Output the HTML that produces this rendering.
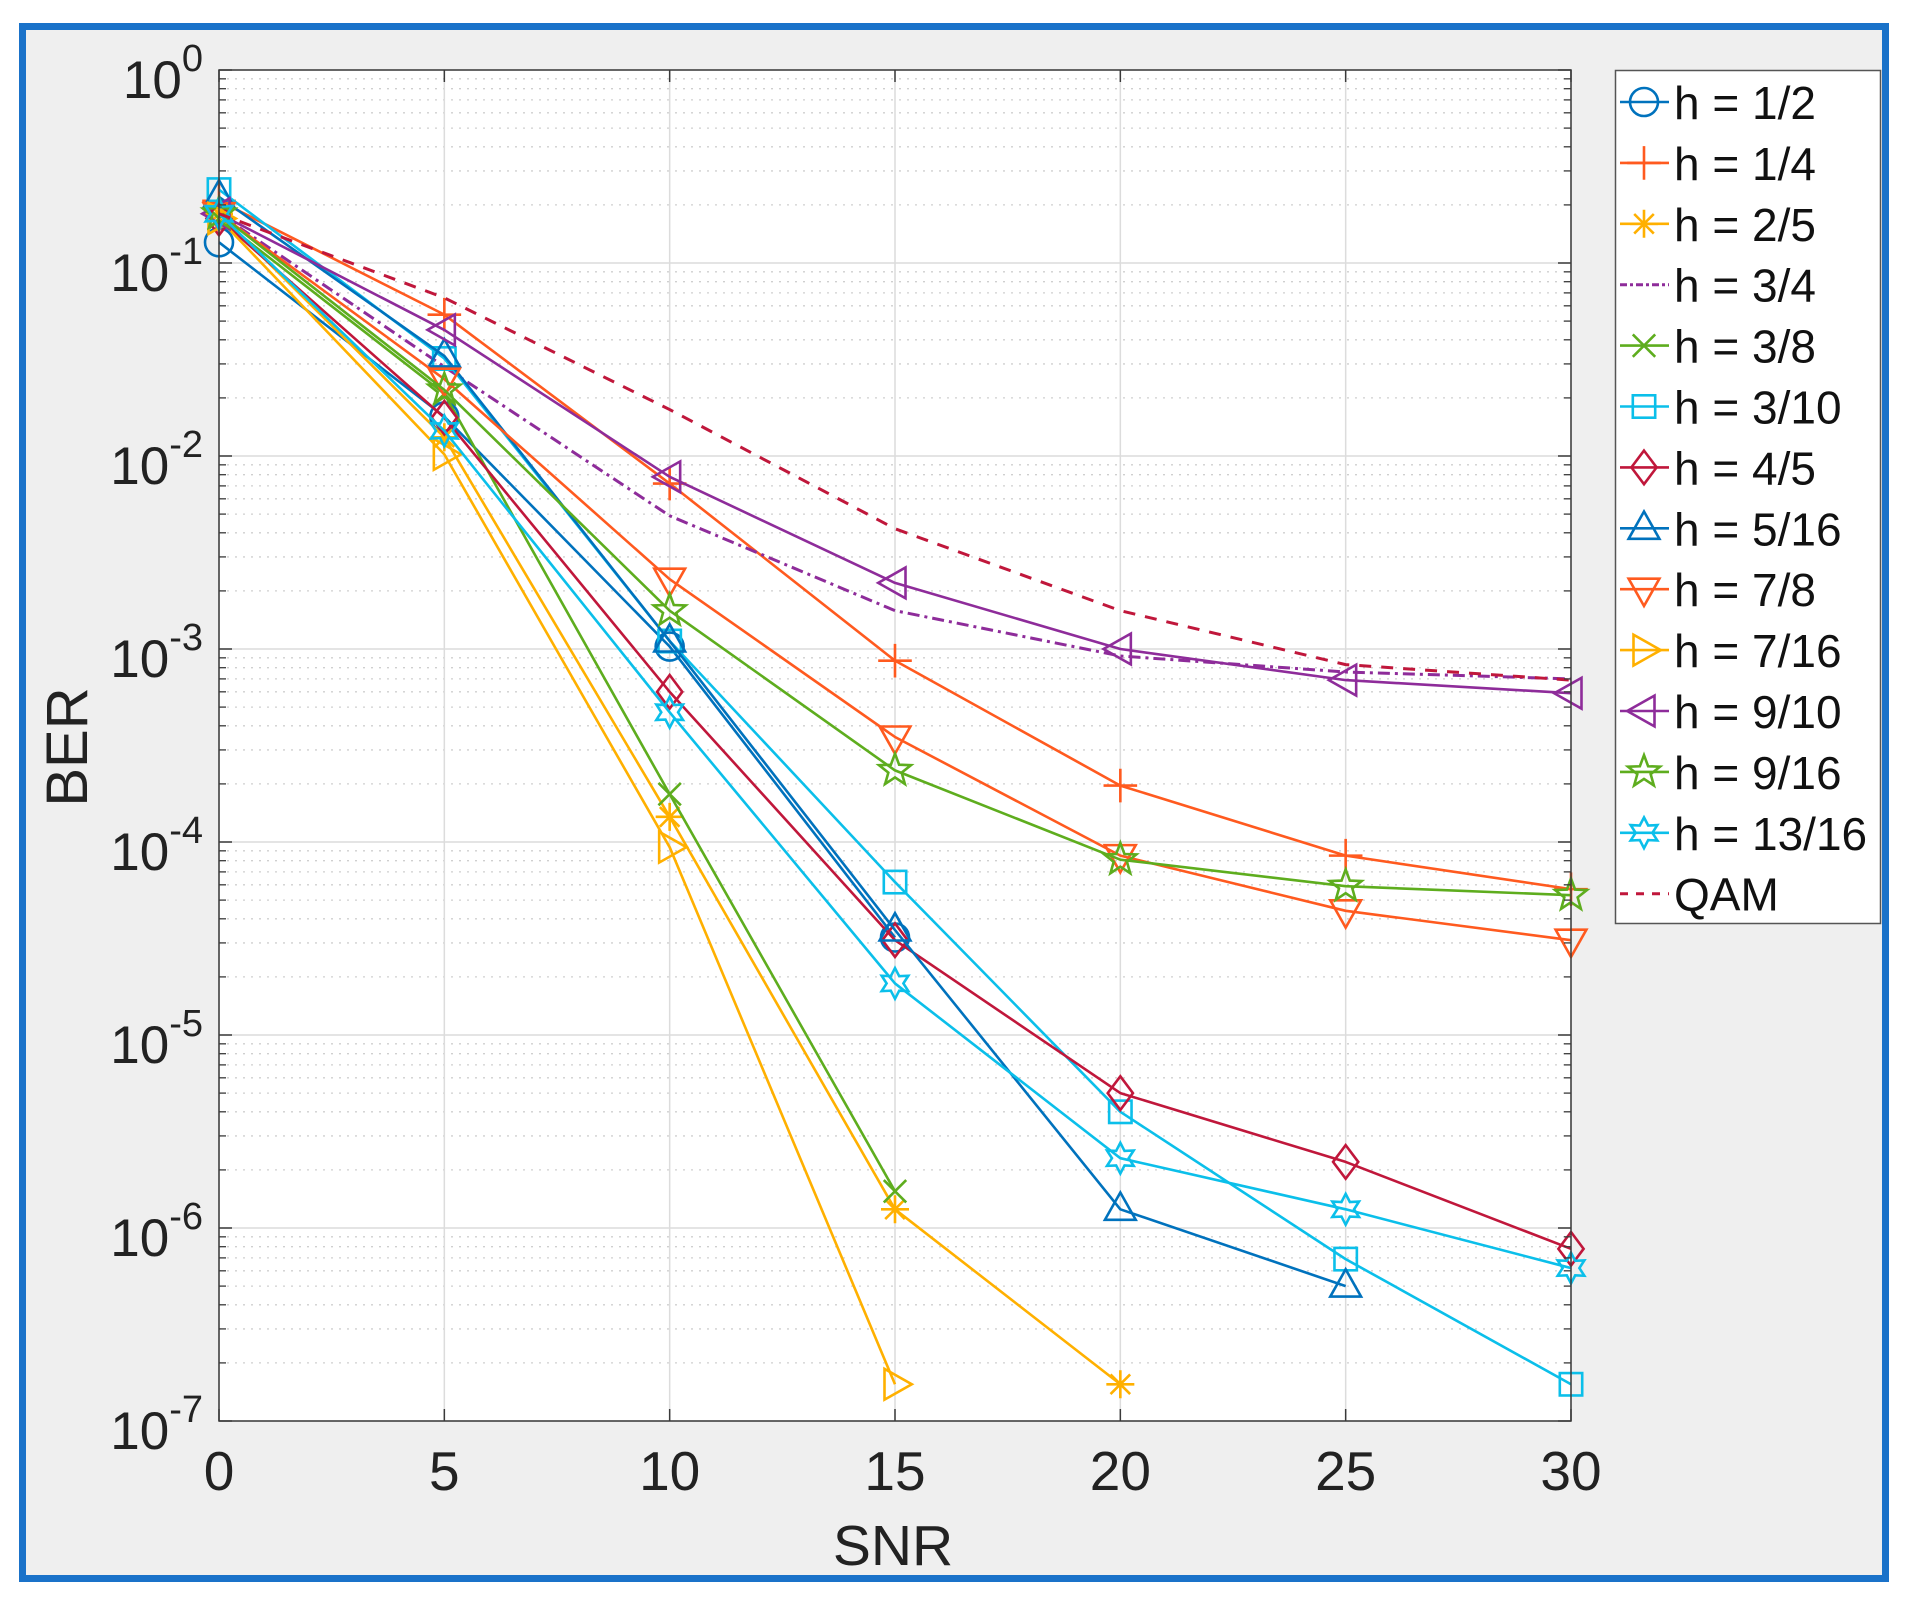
<!DOCTYPE html>
<html><head><meta charset="utf-8"><style>
html,body{margin:0;padding:0;background:#fff;}
svg{display:block;font-family:"Liberation Sans",Arial,sans-serif;}
</style></head><body>
<svg id="chart" width="1915" height="1610" viewBox="0 0 1915 1610">
<rect x="22.5" y="26.5" width="1863" height="1552" fill="#efefef" stroke="#1a72c9" stroke-width="7"/>
<rect x="219" y="70" width="1352" height="1351" fill="#fff"/>
<g id="grid"></g>
<g id="series"></g>
<rect x="219" y="70" width="1352" height="1351" fill="none" stroke="#3a3a3a" stroke-width="1.5"/>
<g id="ticks"></g>
<text x="893" y="1565" font-size="57" text-anchor="middle" fill="#222">SNR</text>
<text transform="translate(87,747) rotate(-90)" font-size="58" text-anchor="middle" fill="#222">BER</text>
<g id="legend"></g>
</svg>
<script>
const xVals = [0, 5, 10, 15, 20, 25, 30];
const xTickLabels = ["0","5","10","15","20","25","30"];
const yTickExps = [0,-1,-2,-3,-4,-5,-6,-7];
const seriesNames = ["h = 1/2","h = 1/4","h = 2/5","h = 3/4","h = 3/8","h = 3/10","h = 4/5","h = 5/16","h = 7/8","h = 7/16","h = 9/10","h = 9/16","h = 13/16","QAM"];
const s_h1_2  = [0.128, 0.016, 0.00103, 3.2e-5];
const s_h1_4  = [0.21, 0.054, 0.0072, 8.7e-4, 1.96e-4, 8.5e-5, 5.7e-5];
const s_h2_5  = [0.18, 0.0125, 1.35e-4, 1.25e-6, 1.55e-7];
const s_h3_4  = [0.18, 0.029, 0.0049, 1.58e-3, 9.2e-4, 7.6e-4, 7.0e-4];
const s_h3_8  = [0.17, 0.021, 1.77e-4, 1.55e-6];
const s_h3_10 = [0.24, 0.032, 1.1e-3, 6.2e-5, 4.0e-6, 6.9e-7, 1.55e-7];
const s_h4_5  = [0.17, 0.0158, 6.0e-4, 3.1e-5, 5.0e-6, 2.2e-6, 7.8e-7];
const s_h5_16 = [0.22, 0.033, 1.1e-3, 3.5e-5, 1.25e-6, 5.0e-7];
const s_h7_8  = [0.18, 0.025, 2.3e-3, 3.5e-4, 8.5e-5, 4.4e-5, 3.1e-5];
const s_h7_16 = [0.17, 0.0102, 9.4e-5, 1.55e-7];
const s_h9_10 = [0.18, 0.045, 7.8e-3, 2.2e-3, 1.0e-3, 6.9e-4, 5.9e-4];
const s_h9_16 = [0.18, 0.022, 1.58e-3, 2.35e-4, 8.1e-5, 5.9e-5, 5.3e-5];
const s_h13_16= [0.18, 0.0135, 4.7e-4, 1.85e-5, 2.3e-6, 1.25e-6, 6.2e-7];
const s_qam   = [0.18, 0.066, 0.0174, 4.2e-3, 1.58e-3, 8.3e-4, 6.9e-4];

const NS="http://www.w3.org/2000/svg";
const L=219,R=1571,T=70,B=1421;
const xs=v=>L+(v-0)/30*(R-L);
const ys=v=>T+(0-Math.log10(v))/7*(B-T);
function mk(tag,attrs,parent){const e=document.createElementNS(NS,tag);for(const k in attrs)e.setAttribute(k,attrs[k]);parent.appendChild(e);return e;}

const styles=[
 {d:s_h1_2,c:"#0072BD",m:"o",dash:""},
 {d:s_h1_4,c:"#FF5A1F",m:"+",dash:""},
 {d:s_h2_5,c:"#FFB000",m:"*",dash:""},
 {d:s_h3_4,c:"#8E2C9A",m:"",dash:"12,5,3,5"},
 {d:s_h3_8,c:"#5EAD1E",m:"x",dash:""},
 {d:s_h3_10,c:"#0BBFEA",m:"s",dash:""},
 {d:s_h4_5,c:"#C0173B",m:"d",dash:""},
 {d:s_h5_16,c:"#0072BD",m:"^",dash:""},
 {d:s_h7_8,c:"#FF5A1F",m:"v",dash:""},
 {d:s_h7_16,c:"#FFB000",m:">",dash:""},
 {d:s_h9_10,c:"#8E2C9A",m:"<",dash:""},
 {d:s_h9_16,c:"#5EAD1E",m:"p",dash:""},
 {d:s_h13_16,c:"#0BBFEA",m:"h",dash:""},
 {d:s_qam,c:"#C0173B",m:"",dash:"12,10"}
];

// grid
const grid=document.getElementById('grid');
for(let e=0;e>-7;e--){
  for(let k=2;k<=9;k++){
    const y=ys(k*Math.pow(10,e-1));
    const g=mk('line',{x1:L,x2:R,y1:y,y2:y,stroke:"#cfcfcf","stroke-width":1.3,"stroke-dasharray":"2,6"},grid);
    
    
  }
}
yTickExps.forEach(e=>{const y=ys(Math.pow(10,e));
  const g=mk('line',{x1:L,x2:R,y1:y,y2:y,stroke:"#dcdcdc","stroke-width":1.5},grid);
  
  
});
xVals.forEach(v=>{const x=xs(v);
  const g=mk('line',{x1:x,x2:x,y1:T,y2:B,stroke:"#dcdcdc","stroke-width":1.5},grid);
  
  
});

// ticks and labels
const ticks=document.getElementById('ticks');
xVals.forEach((v,i)=>{const x=xs(v);
  mk('line',{x1:x,x2:x,y1:B,y2:B-12,stroke:"#3a3a3a","stroke-width":1.5},ticks);
  mk('line',{x1:x,x2:x,y1:T,y2:T+12,stroke:"#3a3a3a","stroke-width":1.5},ticks);
  const t=mk('text',{x:x,y:1490,"font-size":55,"text-anchor":"middle",fill:"#222"},ticks);
  t.textContent=xTickLabels[i];
  
  
});
yTickExps.forEach(e=>{const y=ys(Math.pow(10,e));
  mk('line',{x1:L,x2:L+13,y1:y,y2:y,stroke:"#3a3a3a","stroke-width":1.5},ticks);
  mk('line',{x1:R,x2:R-13,y1:y,y2:y,stroke:"#3a3a3a","stroke-width":1.5},ticks);
  const t=mk('text',{x:203,y:y+28,"font-size":53,"text-anchor":"end",fill:"#222"},ticks);
  const a=mk('tspan',{},t);a.textContent="10";
  const b=mk('tspan',{"font-size":38,dy:-27},t);b.textContent=String(e).replace('-','-');
  
  
});
for(let e=0;e>-7;e--){for(let k=2;k<=9;k++){const y=ys(k*Math.pow(10,e-1));
  mk('line',{x1:L,x2:L+7,y1:y,y2:y,stroke:"#3a3a3a","stroke-width":1.3},ticks);
  mk('line',{x1:R,x2:R-7,y1:y,y2:y,stroke:"#3a3a3a","stroke-width":1.3},ticks);}}

function marker(g,type,x,y,c,r){
  const st={fill:"none",stroke:c,"stroke-width":2.6};
  let el;
  if(type==="o") el=mk('circle',Object.assign({cx:x,cy:y,r:r},st),g);
  else if(type==="s") el=mk('rect',Object.assign({x:x-r*0.8,y:y-r*0.8,width:r*1.6,height:r*1.6},st),g);
  else if(type==="+") el=mk('path',Object.assign({d:`M${x-r*1.2},${y}H${x+r*1.2}M${x},${y-r*1.2}V${y+r*1.2}`},st),g);
  else if(type==="x") el=mk('path',Object.assign({d:`M${x-r*0.8},${y-r*0.8}L${x+r*0.8},${y+r*0.8}M${x-r*0.8},${y+r*0.8}L${x+r*0.8},${y-r*0.8}`},st),g);
  else if(type==="*") el=mk('path',Object.assign({d:`M${x-r},${y}H${x+r}M${x},${y-r}V${y+r}M${x-r*0.7},${y-r*0.7}L${x+r*0.7},${y+r*0.7}M${x-r*0.7},${y+r*0.7}L${x+r*0.7},${y-r*0.7}`},st),g);
  else if(type==="d") el=mk('path',Object.assign({d:`M${x},${y-r*1.2}L${x+r*0.9},${y}L${x},${y+r*1.2}L${x-r*0.9},${y}Z`},st),g);
  else if(type==="^") el=mk('path',Object.assign({d:`M${x},${y-r*1.2}L${x+r*1.1},${y+r*0.75}L${x-r*1.1},${y+r*0.75}Z`},st),g);
  else if(type==="v") el=mk('path',Object.assign({d:`M${x},${y+r*1.2}L${x+r*1.1},${y-r*0.75}L${x-r*1.1},${y-r*0.75}Z`},st),g);
  else if(type===">") el=mk('path',Object.assign({d:`M${x+r*1.2},${y}L${x-r*0.75},${y-r*1.1}L${x-r*0.75},${y+r*1.1}Z`},st),g);
  else if(type==="<") el=mk('path',Object.assign({d:`M${x-r*1.2},${y}L${x+r*0.75},${y-r*1.1}L${x+r*0.75},${y+r*1.1}Z`},st),g);
  else if(type==="p"){let p="";for(let i=0;i<10;i++){const a=-Math.PI/2+i*Math.PI/5;const rr=i%2?r*0.5:r*1.2;p+=(i?"L":"M")+(x+rr*Math.cos(a))+","+(y+rr*Math.sin(a));}
    el=mk('path',Object.assign({d:p+"Z"},st),g);}
  else if(type==="h"){let p="";for(let i=0;i<12;i++){const a=-Math.PI/2+i*Math.PI/6;const rr=i%2?r*0.6:r*1.1;p+=(i?"L":"M")+(x+rr*Math.cos(a))+","+(y+rr*Math.sin(a));}
    el=mk('path',Object.assign({d:p+"Z"},st),g);}
  return el;
}

const sg=document.getElementById('series');
styles.forEach((s,i)=>{
  const g=mk('g',{},sg);
  
  
  const pts=s.d.map((v,j)=>xs(xVals[j])+","+ys(v)).join(" ");
  const pl=mk('polyline',{points:pts,fill:"none",stroke:s.c,"stroke-width":s.dash?3:2.6,"stroke-dasharray":s.dash||"none","stroke-linejoin":"round"},g);
  
  
  if(s.m) s.d.forEach((v,j)=>{
    const m=marker(g,s.m,xs(xVals[j]),ys(v),s.c,14);
    
    
  });
});

// legend
const lg=document.getElementById('legend');
const box=mk('rect',{x:1615.5,y:70.5,width:265,height:853,fill:"#fff",stroke:"#555","stroke-width":1.5},lg);


styles.forEach((s,i)=>{
  const y=102+i*60.9;
  const g=mk('g',{},lg);
  
  
  mk('line',{x1:1620,x2:1669,y1:y,y2:y,stroke:s.c,"stroke-width":s.dash?3:2.6,"stroke-dasharray":s.dash?(s.m===""&&i===3?"7,3,3,3":"8,8"):"none"},g);
  if(s.m) marker(g,s.m,1644,y,s.c,14);
  const t=mk('text',{x:1674,y:y+17,"font-size":46,fill:"#111"},g);
  t.textContent=seriesNames[i];
});
</script>
</body></html>
